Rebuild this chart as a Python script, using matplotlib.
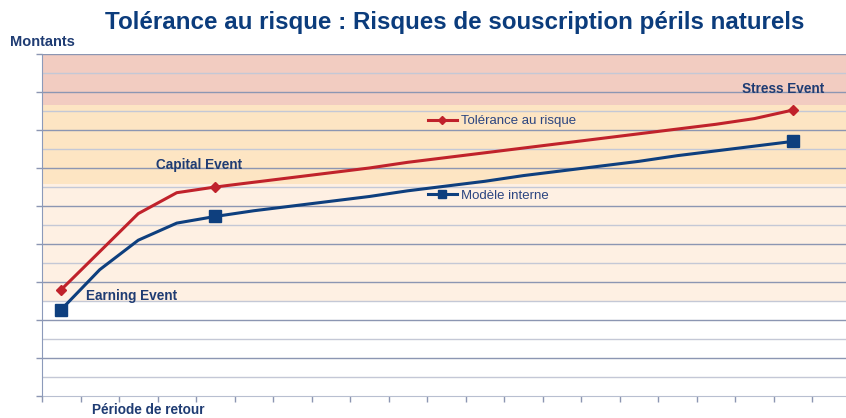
import matplotlib.pyplot as plt
from matplotlib.lines import Line2D

# return period categories (20 points, centred in their slots)
periods = list(range(20))
tolerance = [5.6, 7.6, 9.6, 10.7, 11.0, 11.25, 11.5, 11.75, 12.0, 12.3,
             12.55, 12.8, 13.05, 13.3, 13.55, 13.8, 14.05, 14.3, 14.6, 15.05]
internal_model = [4.55, 6.65, 8.2, 9.1, 9.45, 9.75, 10.0, 10.25, 10.5, 10.8,
                  11.05, 11.3, 11.6, 11.85, 12.1, 12.35, 12.65, 12.9, 13.15, 13.4]
event_idx = [0, 4, 19]

# coloured zones (lower, upper)
zones = [(5.0, 11.15, "#FEF0E3"), (11.15, 15.3, "#FDE5C3"), (15.3, 18.0, "#F2CCC1")]

navy = "#1F3C73"
red = "#C0222B"
blue = "#0E3F7E"

plt.rcParams["font.family"] = ["Liberation Sans", "DejaVu Sans"]

fig = plt.figure(figsize=(8.46, 4.18), dpi=100)
ax = fig.add_axes([42 / 846, 22 / 418, 804 / 846, 342 / 418])

for lo, hi, col in zones:
    ax.axhspan(lo, hi, color=col, lw=0, zorder=0)

for v in range(1, 19):
    ax.axhline(v, color="#8C96B2" if v % 2 == 0 else "#C4C8D6", lw=1.0, zorder=1)

x = [p + 0.5 for p in periods]
ax.plot(x, tolerance, color=red, lw=2.2, zorder=3)
ax.plot([x[i] for i in event_idx], [tolerance[i] for i in event_idx],
        ls="none", marker="D", ms=5, color=red, zorder=4)
ax.plot(x, internal_model, color=blue, lw=2.2, zorder=3)
ax.plot([x[i] for i in event_idx], [internal_model[i] for i in event_idx],
        ls="none", marker="s", ms=8, color=blue, zorder=4)

ax.set_xlim(0, 20.88)
ax.set_ylim(0, 18)
ax.set_xticks(range(21))
ax.set_yticks(range(0, 19, 2))
ax.set_xticklabels([])
ax.set_yticklabels([])
ax.tick_params(axis="both", direction="out", length=4, width=1, color="#8C96B2")
for s in ["top", "right"]:
    ax.spines[s].set_visible(False)
ax.spines["left"].set_color("#8C9ABA")
ax.spines["bottom"].set_color("#B8BFD0")
ax.spines["left"].set_zorder(5)

# legend entries placed separately like in the slide
h1 = Line2D([], [], color=red, lw=2.2, marker="D", ms=4)
h2 = Line2D([], [], color=blue, lw=2.2, marker="s", ms=6)
leg1 = ax.legend([h1], ["Tolérance au risque"], loc="center left",
                 bbox_to_anchor=(0.48, 0.804), frameon=False, fontsize=9.5,
                 borderpad=0, borderaxespad=0, handlelength=2.2, handletextpad=0.3,
                 labelcolor="#2B4580")
ax.add_artist(leg1)
ax.legend([h2], ["Modèle interne"], loc="center left",
          bbox_to_anchor=(0.48, 0.585), frameon=False, fontsize=9.5,
          borderpad=0, borderaxespad=0, handlelength=2.2, handletextpad=0.3,
          labelcolor="#2B4580")

ax.annotate("Earning Event", (x[0], internal_model[0]), xytext=(18, 10),
            textcoords="offset points", fontsize=9.8, fontweight="bold", color=navy,
            va="center")
ax.annotate("Capital Event", (x[4], tolerance[4]), xytext=(-12, 16),
            textcoords="offset points", fontsize=9.8, fontweight="bold", color=navy,
            ha="center", va="center")
ax.annotate("Stress Event", (x[19], tolerance[19]), xytext=(-7, 15),
            textcoords="offset points", fontsize=9.8, fontweight="bold", color=navy,
            ha="center", va="center")

fig.text(10 / 846, 1 - 42 / 418, "Montants", fontsize=10.5, fontweight="bold",
         color=navy, va="center")
fig.text(92 / 846, 1 - 410 / 418, "Période de retour", fontsize=9.8, fontweight="bold",
         color=navy, va="center")
fig.text(455 / 846, 1 - 23 / 418,
         "Tolérance au risque : Risques de souscription périls naturels",
         fontsize=17.4, fontweight="bold", color="#0B3C7C", ha="center", va="center")

fig.savefig("out.png", dpi=100)
